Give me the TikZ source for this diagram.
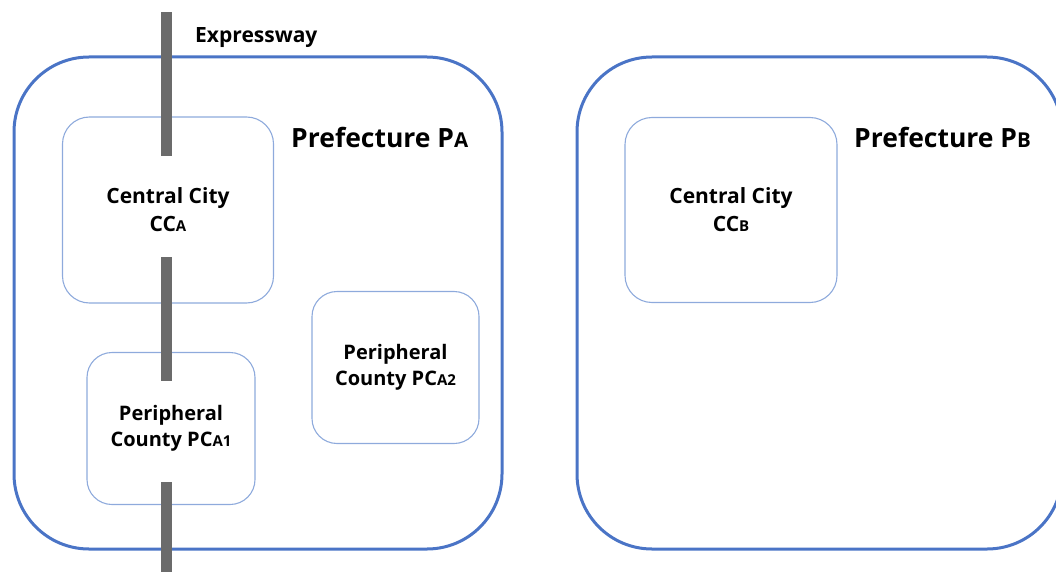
\documentclass[tikz,border=0pt]{standalone}
\usepackage{fontspec}
\setmainfont{Open Sans}
\definecolor{outerblue}{HTML}{4A74C6}
\definecolor{innerblue}{HTML}{8EAADC}
\definecolor{roadgray}{HTML}{6B6B6B}
\newcommand{\smallsub}[1]{{\fontsize{15}{15}\selectfont #1}}
\newcommand{\bigsub}[1]{{\fontsize{20.5}{20.5}\selectfont #1}}
\tikzset{
  prefbox/.style={draw=outerblue, line width=3pt, rounded corners=75pt, inner sep=0pt},
  citybox/.style={draw=innerblue, line width=1.1pt, rounded corners=27pt, inner sep=0pt,
    align=center, font=\bfseries\fontsize{21}{28}\selectfont},
  countybox/.style={citybox, rounded corners=25pt, font=\bfseries\fontsize{20}{26}\selectfont},
  road/.style={fill=roadgray, draw=none, minimum width=11.5pt, inner sep=0pt},
  preflabel/.style={anchor=west, inner sep=0pt, font=\bfseries\fontsize{26.5}{30}\selectfont},
  roadlabel/.style={anchor=west, inner sep=0pt, font=\bfseries\fontsize{21}{24}\selectfont}
}
\begin{document}
\begin{tikzpicture}[x=1pt,y=-1pt]
\useasboundingbox (0,0) rectangle (1056,572);
% prefectures
\node[prefbox, minimum width=488pt, minimum height=492pt] (PA) at (258,303) {};
\node[prefbox, minimum width=485pt, minimum height=492pt] (PB) at (819.5,303) {};
% cities and counties
\node[citybox, minimum width=211pt, minimum height=186pt] (CCA) at (168,210) {Central City\\CC\smallsub{A}};
\node[countybox, minimum width=168pt, minimum height=152pt] (PCA1) at (171,428.5) {Peripheral\\County PC\smallsub{A1}};
\node[countybox, minimum width=167pt, minimum height=152pt] (PCA2) at (395.5,367.5) {Peripheral\\County PC\smallsub{A2}};
\node[citybox, minimum width=212pt, minimum height=185pt] (CCB) at (731,210) {Central City\\CC\smallsub{B}};
% labels
\node[preflabel] (LA) at (291,137) {Prefecture P\bigsub{A}};
\node[preflabel] (LB) at (854,137) {Prefecture P\bigsub{B}};
\node[roadlabel] (LE) at (195,38) {Expressway};
% expressway segments
\node[road, minimum height=144pt] (R1) at (166.5,84) {};
\node[road, minimum height=124pt] (R2) at (166.5,319) {};
\node[road, minimum height=92pt] (R3) at (166.5,528) {};
\end{tikzpicture}
\end{document}
